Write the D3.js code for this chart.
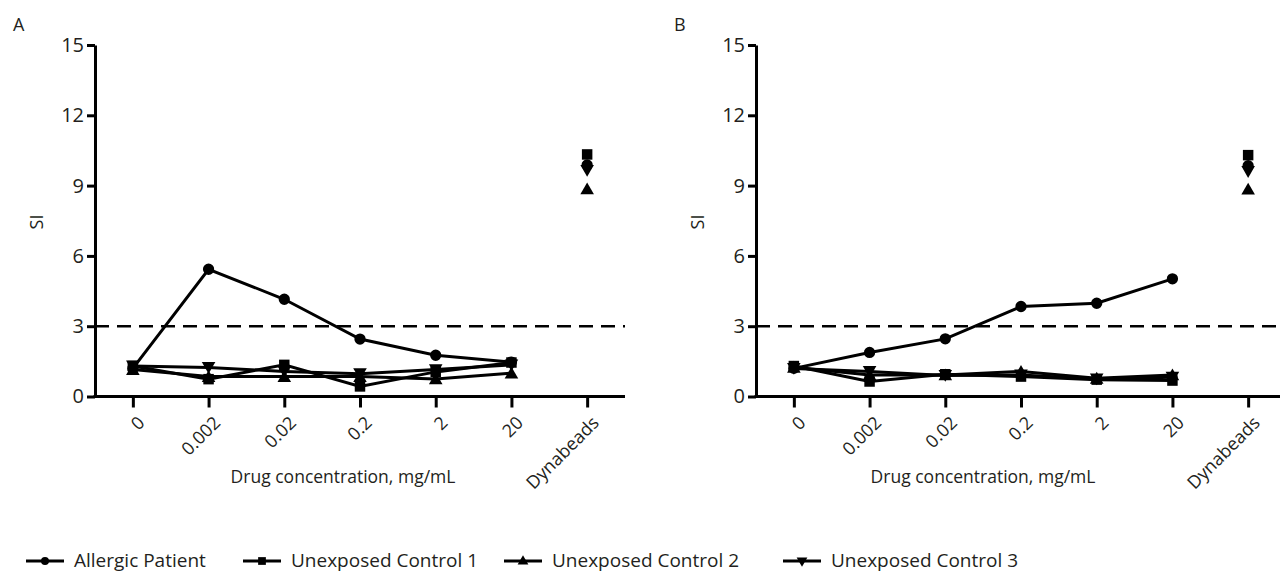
<!DOCTYPE html>
<html lang="en">
<head>
    <meta charset="UTF-8">
    <title>SI plots</title>
    <script src="https://d3js.org/d3.v7.min.js"></script>
    <style>
        body{margin:0;background:#fff}
        text{font-family:"Open Sans",sans-serif;fill:#231f20}
    </style>
</head>
<body>
<div id="fig"></div>
<script>
    // categories on the x axis
    let concentrations = ["0","0.002","0.02","0.2","2","20","Dynabeads"]
    let seriesNames = ["Allergic Patient","Unexposed Control 1","Unexposed Control 2","Unexposed Control 3"]
    let seriesShapes = ["circle","square","triangle","invtriangle"]
    let yTicks = [0,3,6,9,12,15]
    let threshold = 3

    // panel A values (0 .. 20), then the Dynabeads value
    let a_allergic = [1.2,5.43,4.15,2.45,1.76,1.47]
    let a_control1 = [1.3,0.74,1.35,0.43,1.05,1.45]
    let a_control2 = [1.15,0.85,0.85,0.85,0.75,1.0]
    let a_control3 = [1.3,1.24,1.07,0.97,1.15,1.35]
    let a_dyna = [9.88,10.33,8.86,9.65]

    // panel B
    let b_allergic = [1.2,1.88,2.46,3.84,3.98,5.02]
    let b_control1 = [1.3,0.64,0.95,0.85,0.72,0.68]
    let b_control2 = [1.25,0.92,0.92,1.07,0.78,0.92]
    let b_control3 = [1.2,1.07,0.9,0.92,0.75,0.82]
    let b_dyna = [9.85,10.3,8.85,9.6]

    let W = 1280, H = 575
    let svg = d3.select("#fig").append("svg").attr("width",W).attr("height",H)

    let y = d3.scaleLinear().domain([0,15]).range([396.5,45])

    function symbolFor(shape){
        if(shape==="circle") return d3.symbol().type(d3.symbolCircle).size(100)
        if(shape==="square") return d3.symbol().type(d3.symbolSquare).size(110)
        return d3.symbol().type(d3.symbolTriangle).size(80)
    }
    function drawMarker(g,shape,cx,cy){
        let rot = shape==="invtriangle" ? " rotate(180)" : ""
        let dy = shape==="triangle" ? 1.5 : (shape==="invtriangle" ? -1.5 : 0)
        g.append("path").attr("d",symbolFor(shape)())
            .attr("transform",`translate(${cx},${cy+dy})${rot}`)
            .attr("fill","#000")
    }

    function panel(x0,x1,letter,titleX,lines,dyna){
        let x = d3.scalePoint().domain(concentrations).range([x0,x1]).padding(0.5)
        let g = svg.append("g")

        // threshold
        g.append("line").attr("x1",x0).attr("x2",x1)
            .attr("y1",y(threshold)).attr("y2",y(threshold))
            .attr("stroke","#000").attr("stroke-width",2.5).attr("stroke-dasharray","14,8")

        // axes
        let yAxis = g.append("g").attr("transform",`translate(${x0},0)`)
            .call(d3.axisLeft(y).tickValues(yTicks).tickSize(8).tickSizeOuter(0).tickPadding(3))
        yAxis.selectAll("path,line").attr("stroke","#000").attr("stroke-width",3)
        yAxis.selectAll("text").attr("font-size",20).attr("fill","#231f20").style("font-family","Open Sans")

        let xAxis = g.append("g").attr("transform",`translate(0,${y(0)})`)
            .call(d3.axisBottom(x).tickSize(11).tickSizeOuter(0))
        xAxis.select("path").attr("d",`M${x0 - 1.5},0H${x1}`)
        xAxis.selectAll("path,line").attr("stroke","#000").attr("stroke-width",3)
        xAxis.selectAll("text")
            .attr("font-size",18).attr("fill","#231f20").style("font-family","Open Sans")
            .attr("text-anchor","end")
            .attr("transform","translate(8,23) rotate(-45)")
            .attr("x",0).attr("y",0).attr("dy","0.35em")

        // series lines
        let line = d3.line().x((d,i)=>x(concentrations[i])).y(d=>y(d))
        lines.forEach(function(vals){
            g.append("path").datum(vals).attr("d",line)
                .attr("fill","none").attr("stroke","#000").attr("stroke-width",3)
        })
        lines.forEach(function(vals,k){
            vals.forEach(function(v,i){ drawMarker(g,seriesShapes[k],x(concentrations[i]),y(v)) })
        })
        // dynabeads points
        let order = [1,0,3,2]
        order.forEach(function(k){ drawMarker(g,seriesShapes[k],x("Dynabeads"),y(dyna[k])) })

        g.append("text").attr("x",titleX).attr("y",483).attr("text-anchor","middle")
            .attr("font-size",17.5).text("Drug concentration, mg/mL")
        g.append("text").attr("transform",`translate(${x0-52},222) rotate(-90)`)
            .attr("text-anchor","middle").attr("font-size",18).text("SI")
        g.append("text").attr("x",x0-82).attr("y",31).attr("font-size",18).text(letter)
    }

    panel(95,625,"A",343,[a_allergic,a_control1,a_control2,a_control3],a_dyna)
    panel(756,1286,"B",983,[b_allergic,b_control1,b_control2,b_control3],b_dyna)

    // legend
    let legendX = [26,243,504,783]
    let legend = svg.append("g")
    seriesNames.forEach(function(name,k){
        let lx = legendX[k]
        legend.append("line").attr("x1",lx).attr("x2",lx+38).attr("y1",561).attr("y2",561)
            .attr("stroke","#000").attr("stroke-width",3)
        legend.append("path").attr("d",d3.symbol().type(k===0?d3.symbolCircle:(k===1?d3.symbolSquare:d3.symbolTriangle)).size(k===1?60:50)())
            .attr("transform",`translate(${lx+19},${561 + (k===2?0.5:(k===3?-0.5:0))})${k===3?" rotate(180)":""}`)
            .attr("fill","#000")
        legend.append("text").attr("x",lx+48).attr("y",567).attr("font-size",19).text(name)
    })
</script>
</body>
</html>
